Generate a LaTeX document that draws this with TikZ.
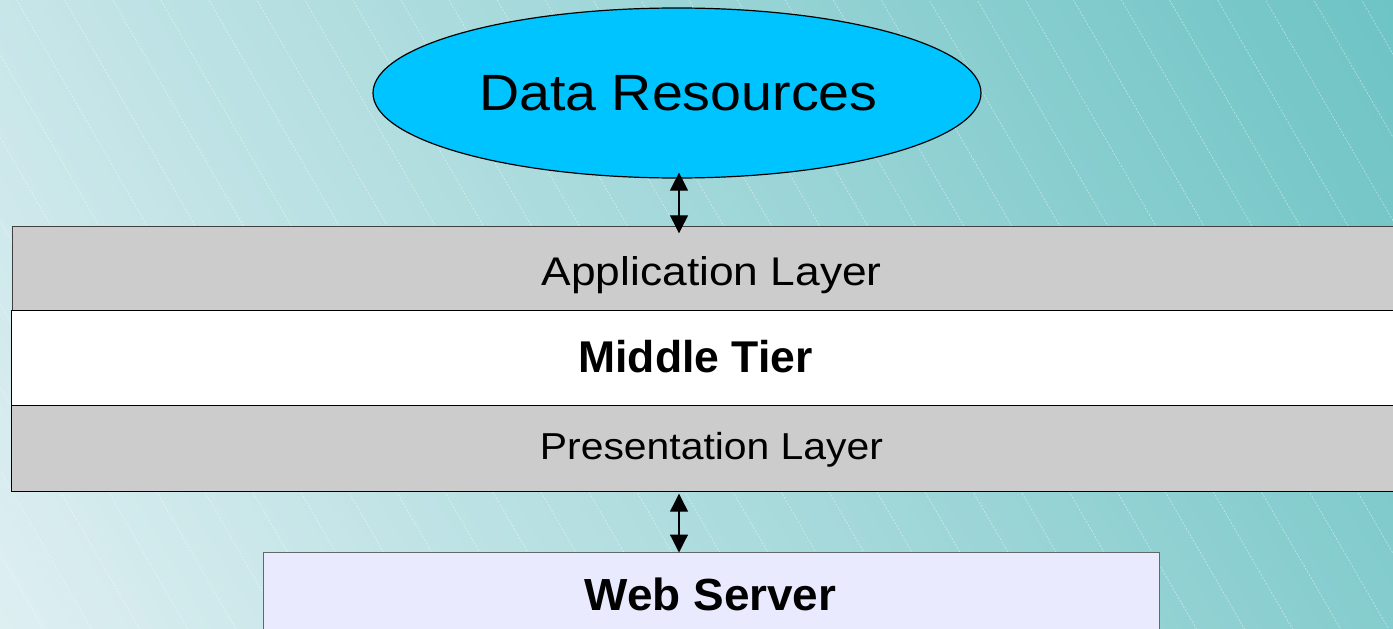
\documentclass[tikz,border=0pt]{standalone}
\usepackage{fontspec}
\setmainfont{Liberation Sans}
\usetikzlibrary{arrows.meta,calc,shapes.geometric}
\definecolor{bgL}{HTML}{DFEFF2}
\definecolor{bgR}{HTML}{6DC3C4}
\definecolor{drfill}{HTML}{00C4FF}
\definecolor{layergray}{HTML}{CCCCCC}
\definecolor{webfill}{HTML}{EAEAFF}
\definecolor{webedge}{HTML}{606868}
\definecolor{appedge}{HTML}{404040}

\begin{document}
\begin{tikzpicture}[x=1pt,y=-1pt,
  stripe/.style={white, opacity=0.5, line width=0.6pt, dash pattern=on 2pt off 1.5pt},
  band/.style={rectangle, anchor=north west, inner sep=0pt, line width=1.2pt},
  lbl/.style={inner sep=0pt, anchor=base, transform shape},
  biarrow/.style={line width=1.2pt, black, {Triangle[width=18pt,length=18pt]}-{Triangle[width=18pt,length=18pt]}}]
\useasboundingbox (0,0) rectangle (1393,629);
\begin{scope}
  \clip (0,0) rectangle (1393,629);
  % diagonal gradient backdrop with fine dashed stripes
  \begin{scope}[transform canvas={shift={(0,629)},rotate=30}]
    \shade[left color=bgL,right color=bgR] (-10,-800) rectangle (1531,800);
    \foreach \m in {0,...,36}
      \draw[stripe] ({37.76+41.6*\m},-800) -- ({37.76+41.6*\m},800);
  \end{scope}

  % shapes
  \node[ellipse, draw=black, fill=drfill, line width=1.2pt, inner sep=0pt,
        minimum width=608pt, minimum height=170pt] (dr) at (677,93) {};
  \node[band, draw=appedge, fill=layergray, minimum width=1398pt, minimum height=84pt] (app) at (12,226) {};
  \node[band, draw=black, fill=white, minimum width=1399pt, minimum height=95pt] (mid) at (11,310) {};
  \node[band, draw=black, fill=layergray, minimum width=1399pt, minimum height=86pt] (pres) at (11,405) {};
  \node[band, draw=webedge, fill=webfill, minimum width=896pt, minimum height=100pt] (web) at (263,552) {};

  % connectors
  \draw[biarrow] ($(dr.south)+(2,-6)$) -- ($(dr.south |- app.north)+(2,7.3)$);
  \draw[biarrow] ($(dr.south |- pres.south)+(2,1.5)$) -- ($(dr.south |- web.north)+(2,0.5)$);

  % labels
  \node[lbl, xscale=1.09, font=\fontsize{51pt}{60pt}\selectfont] (tdr) at (678.4,110) {Data Resources};
  \node[lbl, xscale=1.108, font=\fontsize{40pt}{48pt}\selectfont] (tapp) at (711.7,285) {Application Layer};
  \node[lbl, xscale=1.0, font=\fontsize{44.5pt}{52pt}\selectfont\bfseries] (tmid) at (695.5,372.7) {Middle Tier};
  \node[lbl, xscale=1.09, font=\fontsize{37.5pt}{45pt}\selectfont] (tpres) at (711.5,459.3) {Presentation Layer};
  \node[lbl, xscale=1.02, font=\fontsize{45pt}{54pt}\selectfont\bfseries] (tweb) at (710.5,610) {Web Server};
\end{scope}
\end{tikzpicture}
\end{document}
